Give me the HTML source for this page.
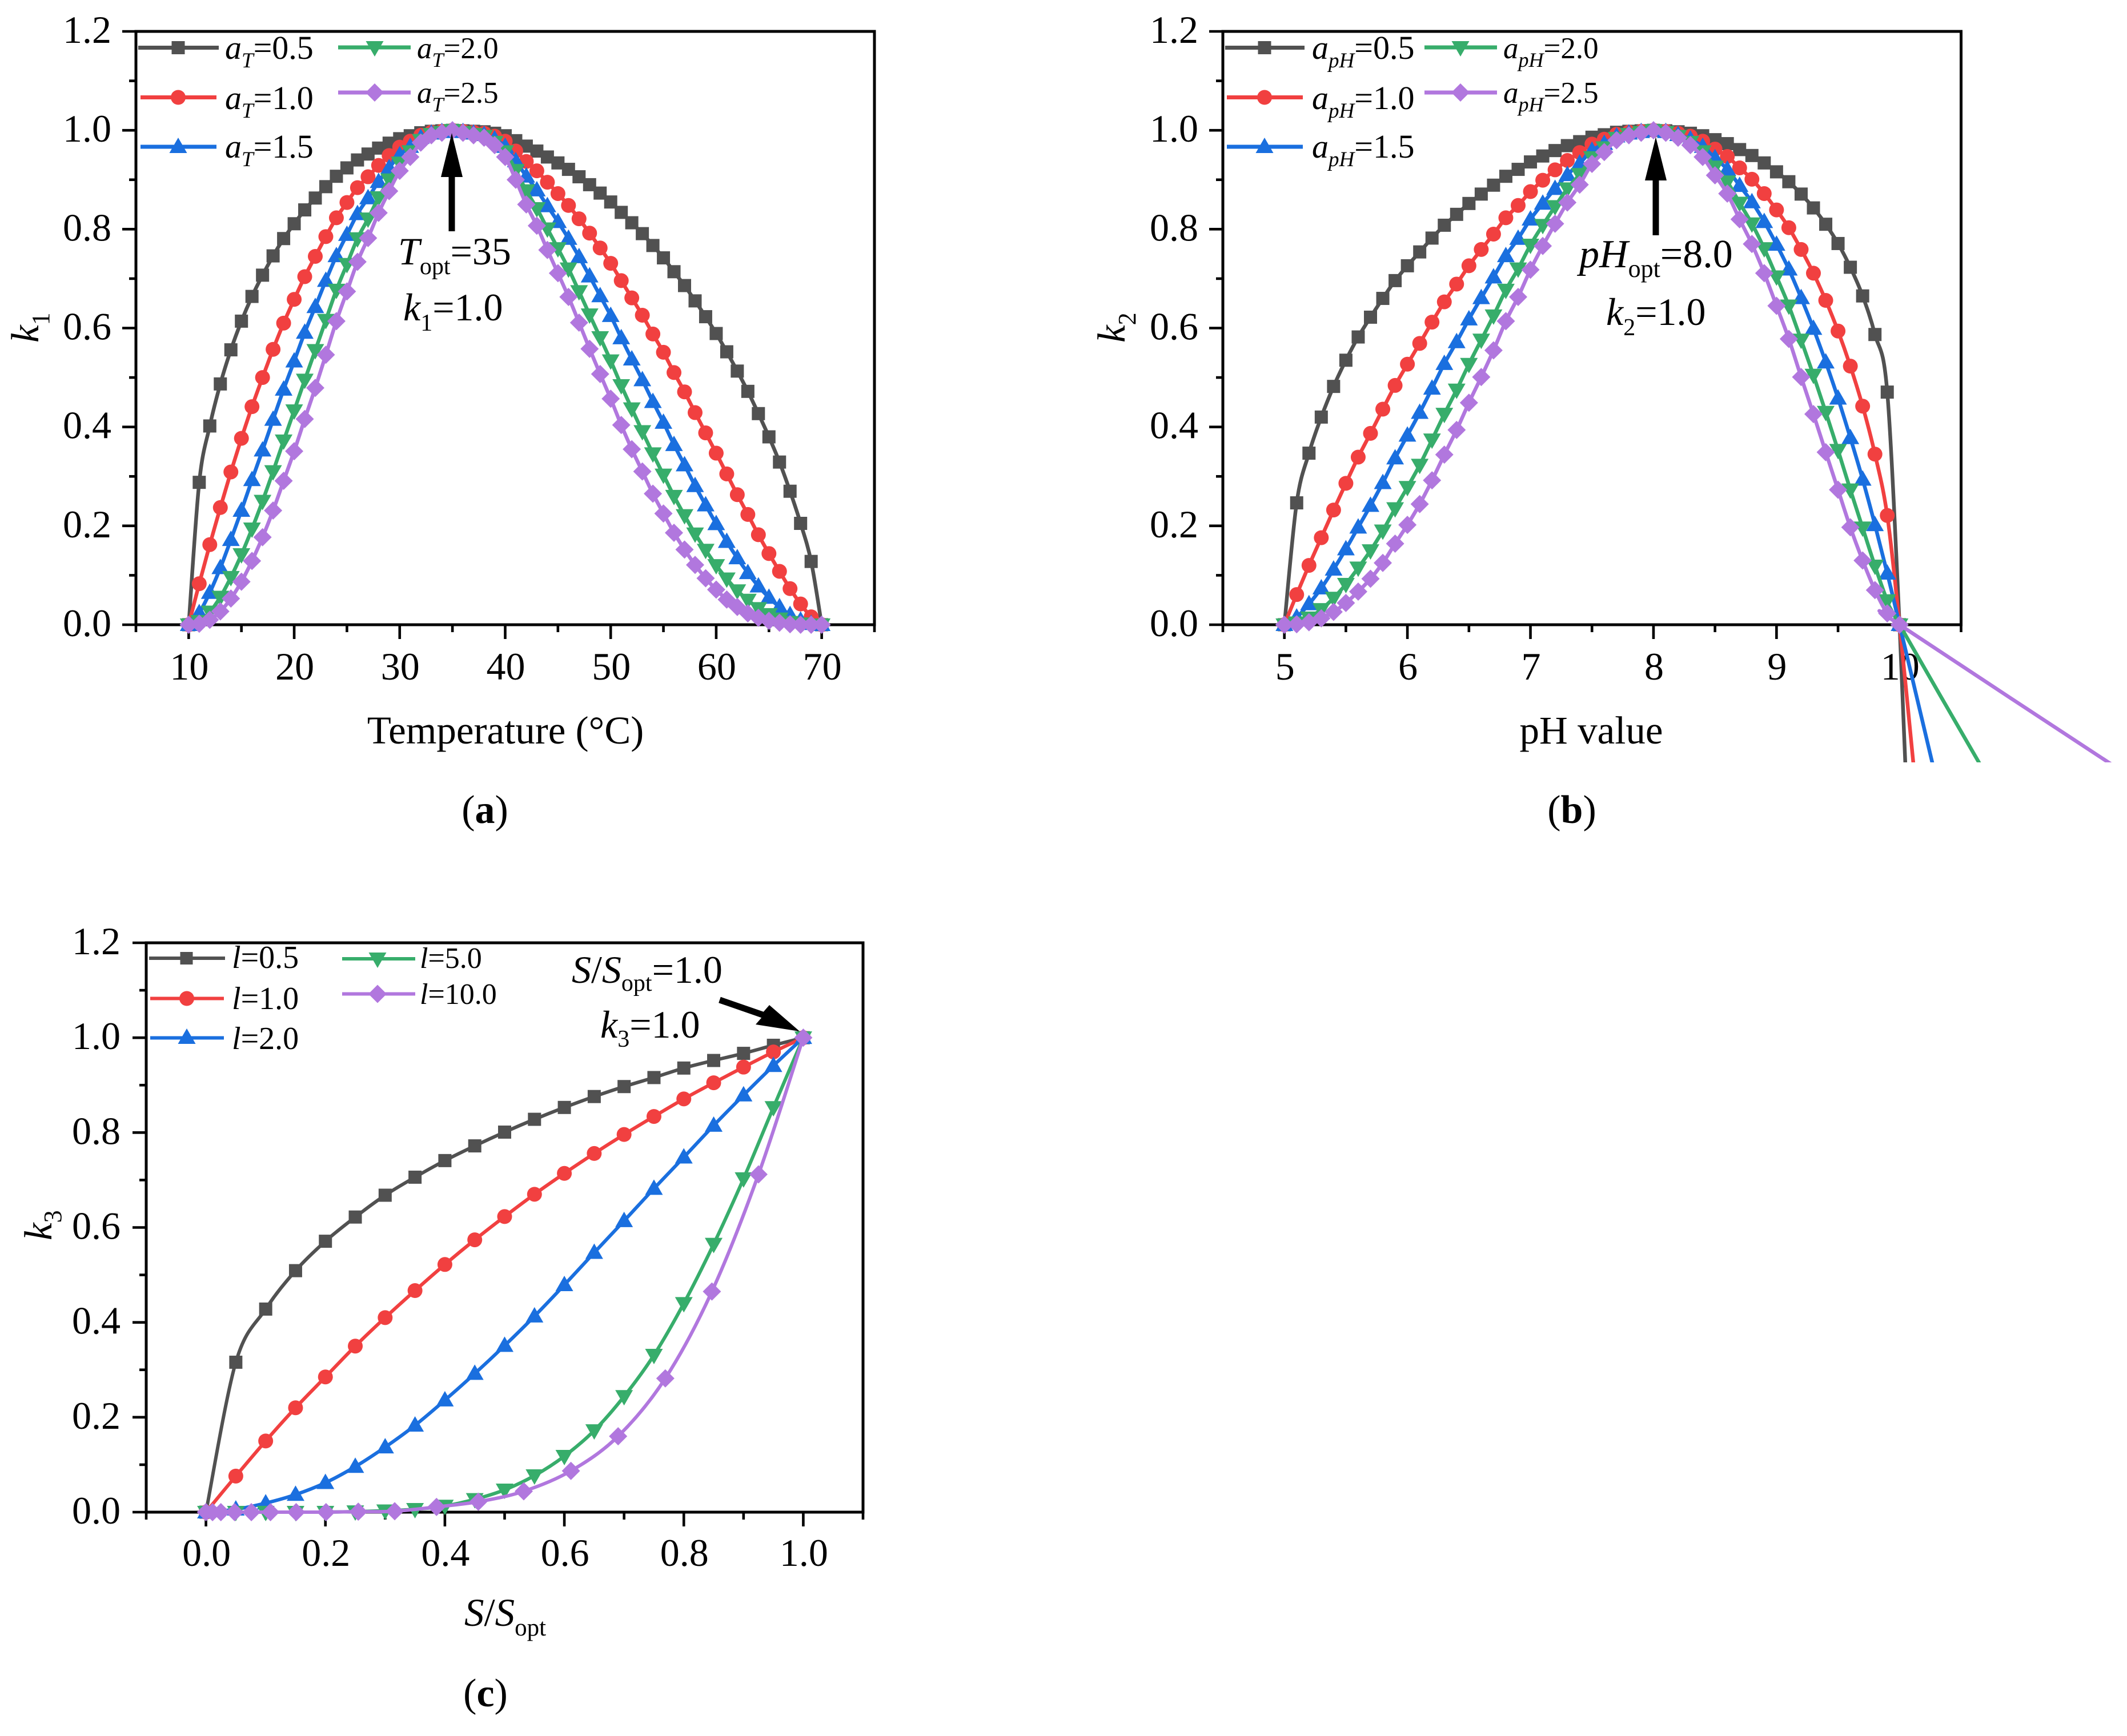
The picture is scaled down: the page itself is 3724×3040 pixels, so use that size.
<!DOCTYPE html>
<html lang="en">
<head>
<meta charset="utf-8">
<title>Response curves k1, k2, k3</title>
<style>
html,body{margin:0;padding:0;background:#fff}
svg{display:block}
text{font-family:"Liberation Serif",serif;fill:#000}
.tick{font-size:68px}
.title{font-size:69px}
.note{font-size:68px}
.noteb{font-size:70px}
.leg{font-size:58px}
.leg2{font-size:53px}
.legc{font-size:56px}
.legc2{font-size:52px}
.it{font-style:italic}
</style>
</head>
<body>
<svg id="figure" xmlns="http://www.w3.org/2000/svg" width="3724" height="3040" viewBox="0 0 3724 3040">
  <rect width="3724" height="3040" fill="#fff"/>
  <defs>
    <clipPath id="clipB"><rect x="2100" y="0" width="1624" height="1335"/></clipPath>
  </defs>
  <g id="plots"></g>

  <!-- Panel a text -->
  <g>
    <text class="title" x="885" y="1302" text-anchor="middle">Temperature (°C)</text>
    <text class="title" transform="translate(67,600) rotate(-90)"><tspan class="it">k</tspan><tspan dy="19" font-size="44">1</tspan></text>
    <text x="849" y="1441" font-size="70" text-anchor="middle">(<tspan font-weight="bold">a</tspan>)</text>
    <text class="note" x="697" y="463"><tspan class="it">T</tspan><tspan dy="17" font-size="42">opt</tspan><tspan dy="-17">=35</tspan></text>
    <text class="note" x="706" y="561"><tspan class="it">k</tspan><tspan dy="18" font-size="42">1</tspan><tspan dy="-18">=1.0</tspan></text>
    <polygon fill="#000" points="791,233 810,310 796.5,310 796.5,405 785.5,405 785.5,310 772,310"/>
  </g>
  <g>
    <g>
      <line x1="242" x2="383" y1="83.5" y2="83.5" stroke="#515151" stroke-width="7"/><rect x="300.5" y="72" width="23" height="23" fill="#515151"/>
      <text class="leg" x="394" y="103"><tspan class="it">a</tspan><tspan class="it" dy="15" font-size="37">T</tspan><tspan dy="-15">=0.5</tspan></text>
    </g>
    <g>
      <line x1="246" x2="379" y1="170.5" y2="170.5" stroke="#F14040" stroke-width="7"/><circle cx="312" cy="170.5" r="13" fill="#F14040"/>
      <text class="leg" x="394" y="191"><tspan class="it">a</tspan><tspan class="it" dy="15" font-size="37">T</tspan><tspan dy="-15">=1.0</tspan></text>
    </g>
    <g>
      <line x1="246" x2="379" y1="257" y2="257" stroke="#1A6FDF" stroke-width="7"/><polygon points="312,241 327.5,268 296.5,268" fill="#1A6FDF"/>
      <text class="leg" x="394" y="276"><tspan class="it">a</tspan><tspan class="it" dy="15" font-size="37">T</tspan><tspan dy="-15">=1.5</tspan></text>
    </g>
    <g>
      <line x1="592" x2="719" y1="83" y2="83" stroke="#37AD6B" stroke-width="7"/><polygon points="656,99 671.5,72 640.5,72" fill="#37AD6B"/>
      <text class="leg2" x="730" y="102"><tspan class="it">a</tspan><tspan class="it" dy="15" font-size="36">T</tspan><tspan dy="-15">=2.0</tspan></text>
    </g>
    <g>
      <line x1="592" x2="719" y1="162" y2="162" stroke="#B177DE" stroke-width="7"/><polygon points="656,146 672,162 656,178 640,162" fill="#B177DE"/>
      <text class="leg2" x="730" y="180"><tspan class="it">a</tspan><tspan class="it" dy="15" font-size="36">T</tspan><tspan dy="-15">=2.5</tspan></text>
    </g>
  </g>

  <!-- Panel b text -->
  <g>
    <text class="title" x="2786" y="1302" text-anchor="middle">pH value</text>
    <text class="title" transform="translate(1969,600) rotate(-90)"><tspan class="it">k</tspan><tspan dy="19" font-size="44">2</tspan></text>
    <text x="2752" y="1441" font-size="70" text-anchor="middle">(<tspan font-weight="bold">b</tspan>)</text>
    <text class="noteb" x="2765" y="468"><tspan class="it">pH</tspan><tspan dy="17" font-size="44">opt</tspan><tspan dy="-17">=8.0</tspan></text>
    <text class="note" x="2812" y="569"><tspan class="it">k</tspan><tspan dy="18" font-size="42">2</tspan><tspan dy="-18">=1.0</tspan></text>
    <polygon fill="#000" points="2899,240 2918,316 2904.5,316 2904.5,412 2893.5,412 2893.5,316 2880,316"/>
  </g>
  <g>
    <g>
      <line x1="2145" x2="2284" y1="83.5" y2="83.5" stroke="#515151" stroke-width="7"/><rect x="2202.5" y="72" width="23" height="23" fill="#515151"/>
      <text class="leg" x="2297" y="103"><tspan class="it">a</tspan><tspan class="it" dy="15" font-size="37">pH</tspan><tspan dy="-15">=0.5</tspan></text>
    </g>
    <g>
      <line x1="2148" x2="2281" y1="170.5" y2="170.5" stroke="#F14040" stroke-width="7"/><circle cx="2214" cy="170.5" r="13" fill="#F14040"/>
      <text class="leg" x="2297" y="191"><tspan class="it">a</tspan><tspan class="it" dy="15" font-size="37">pH</tspan><tspan dy="-15">=1.0</tspan></text>
    </g>
    <g>
      <line x1="2148" x2="2281" y1="257" y2="257" stroke="#1A6FDF" stroke-width="7"/><polygon points="2214,241 2229.5,268 2198.5,268" fill="#1A6FDF"/>
      <text class="leg" x="2297" y="276"><tspan class="it">a</tspan><tspan class="it" dy="15" font-size="37">pH</tspan><tspan dy="-15">=1.5</tspan></text>
    </g>
    <g>
      <line x1="2494" x2="2621" y1="83" y2="83" stroke="#37AD6B" stroke-width="7"/><polygon points="2557,99 2572.5,72 2541.5,72" fill="#37AD6B"/>
      <text class="leg2" x="2632" y="102"><tspan class="it">a</tspan><tspan class="it" dy="15" font-size="36">pH</tspan><tspan dy="-15">=2.0</tspan></text>
    </g>
    <g>
      <line x1="2494" x2="2621" y1="162" y2="162" stroke="#B177DE" stroke-width="7"/><polygon points="2557,146 2573,162 2557,178 2541,162" fill="#B177DE"/>
      <text class="leg2" x="2632" y="180"><tspan class="it">a</tspan><tspan class="it" dy="15" font-size="36">pH</tspan><tspan dy="-15">=2.5</tspan></text>
    </g>
  </g>

  <!-- Panel c text -->
  <g>
    <text class="title" x="813" y="2847"><tspan class="it">S</tspan>/<tspan class="it">S</tspan><tspan dy="17" font-size="43">opt</tspan></text>
    <text class="title" transform="translate(90,2172) rotate(-90)"><tspan class="it">k</tspan><tspan dy="17" font-size="44">3</tspan></text>
    <text x="850" y="2988" font-size="70" text-anchor="middle">(<tspan font-weight="bold">c</tspan>)</text>
    <text class="note" x="1001" y="1721"><tspan class="it">S</tspan>/<tspan class="it">S</tspan><tspan dy="14" font-size="42">opt</tspan><tspan dy="-14">=1.0</tspan></text>
    <text class="note" x="1051" y="1817"><tspan class="it">k</tspan><tspan dy="16" font-size="42">3</tspan><tspan dy="-16">=1.0</tspan></text>
    <polygon fill="#000" points="1400,1806 1347,1760 1336.8,1771.8 1261.8,1745.8 1258.2,1756.2 1333.2,1782.2 1323,1794"/>
  </g>
  <g>
    <g>
      <line x1="261" x2="394" y1="1678" y2="1678" stroke="#515151" stroke-width="6"/><rect x="315.5" y="1667" width="22" height="22" fill="#515151"/>
      <text class="legc" x="406" y="1695"><tspan class="it">l</tspan>=0.5</text>
    </g>
    <g>
      <line x1="263" x2="392" y1="1748.5" y2="1748.5" stroke="#F14040" stroke-width="6"/><circle cx="327" cy="1748.5" r="13" fill="#F14040"/>
      <text class="legc" x="406" y="1767"><tspan class="it">l</tspan>=1.0</text>
    </g>
    <g>
      <line x1="263" x2="392" y1="1817.5" y2="1817.5" stroke="#1A6FDF" stroke-width="6"/><polygon points="327,1801 342.5,1828 311.5,1828" fill="#1A6FDF"/>
      <text class="legc" x="406" y="1837"><tspan class="it">l</tspan>=2.0</text>
    </g>
    <g>
      <line x1="599" x2="727" y1="1679" y2="1679" stroke="#37AD6B" stroke-width="6"/><polygon points="661,1695 676.5,1668 645.5,1668" fill="#37AD6B"/>
      <text class="legc2" x="735" y="1695"><tspan class="it">l</tspan>=5.0</text>
    </g>
    <g>
      <line x1="599" x2="727" y1="1740.5" y2="1740.5" stroke="#B177DE" stroke-width="6"/><polygon points="661,1724.5 677,1740.5 661,1756.5 645,1740.5" fill="#B177DE"/>
      <text class="legc2" x="735" y="1758"><tspan class="it">l</tspan>=10.0</text>
    </g>
  </g>
</svg>

<script>
// ---------- shared tick data ----------
const kTickLabels = ['0.0','0.2','0.4','0.6','0.8','1.0','1.2'];
const kMajorTicks = [0,0.2,0.4,0.6,0.8,1.0,1.2];
const kMinorTicks = [0.1,0.3,0.5,0.7,0.9,1.1];

// ---------- panel a: temperature ----------
const tempMajorTicks = [10,20,30,40,50,60,70];
const tempTickLabels = ['10','20','30','40','50','60','70'];
const tempMinorTicks = [5,15,25,35,45,55,65,75];
const tempX = [10,11,12,13,14,15,16,17,18,19,20,21,22,23,24,25,26,27,28,29,30,31,32,33,34,35,36,37,38,39,40,41,42,43,44,45,46,47,48,49,50,51,52,53,54,55,56,57,58,59,60,61,62,63,64,65,66,67,68,69,70];
const aT05 = [0,.288,.402,.487,.556,.614,.664,.707,.746,.781,.811,.839,.863,.886,.907,.924,.940,.952,.964,.974,.983,.989,.995,.998,.999,1,.999,.998,.997,.994,.989,.979,.968,.958,.946,.934,.921,.906,.890,.873,.855,.834,.813,.791,.767,.742,.714,.686,.655,.623,.589,.552,.513,.472,.427,.380,.329,.270,.205,.128,0];
const aT10 = [0,.083,.162,.237,.309,.377,.441,.500,.557,.610,.658,.704,.745,.785,.823,.854,.884,.906,.929,.949,.966,.978,.990,.996,.998,1,.998,.996,.994,.988,.978,.958,.937,.918,.895,.872,.848,.821,.792,.762,.731,.696,.661,.626,.588,.551,.510,.471,.429,.388,.347,.305,.263,.223,.182,.144,.108,.073,.042,.016,0];
const aT15 = [0,.024,.065,.115,.172,.231,.293,.353,.415,.476,.533,.591,.643,.696,.746,.789,.831,.863,.896,.924,.950,.967,.985,.994,.997,1,.997,.994,.991,.982,.967,.938,.907,.879,.847,.815,.781,.744,.705,.665,.625,.580,.537,.495,.451,.409,.364,.323,.281,.242,.204,.168,.135,.105,.078,.055,.036,.020,.009,.002,0];
const aT20 = [0,.007,.026,.056,.096,.142,.194,.250,.310,.372,.433,.495,.555,.616,.677,.729,.781,.821,.864,.900,.934,.957,.980,.992,.996,1,.996,.992,.988,.976,.957,.919,.878,.842,.801,.761,.720,.674,.627,.581,.534,.484,.437,.391,.346,.303,.260,.221,.184,.151,.120,.093,.069,.050,.033,.021,.012,.005,.002,0,0];
const aT25 = [0,.002,.010,.027,.053,.087,.129,.177,.231,.291,.351,.416,.479,.546,.614,.674,.734,.782,.833,.877,.918,.946,.975,.990,.995,1,.995,.990,.985,.970,.946,.900,.850,.807,.758,.711,.663,.611,.558,.507,.457,.404,.355,.310,.265,.225,.186,.152,.121,.094,.071,.051,.036,.023,.014,.008,.004,.001,0,0,0];

// ---------- panel b: pH ----------
const phMajorTicks = [5,6,7,8,9,10];
const phTickLabels = ['5','6','7','8','9','10'];
const phMinorTicks = [4.5,5.5,6.5,7.5,8.5,9.5,10.5];
const phX = [5,5.1,5.2,5.3,5.4,5.5,5.6,5.7,5.8,5.9,6,6.1,6.2,6.3,6.4,6.5,6.6,6.7,6.8,6.9,7,7.1,7.2,7.3,7.4,7.5,7.6,7.7,7.8,7.9,8,8.1,8.2,8.3,8.4,8.5,8.6,8.7,8.8,8.9,9,9.1,9.2,9.3,9.4,9.5,9.6,9.7,9.8,9.9,10];
const aPh05 = [0,.2465,.347,.420,.482,.535,.582,.622,.660,.696,.726,.754,.782,.808,.830,.852,.871,.889,.907,.921,.936,.948,.959,.969,.977,.986,.991,.996,.998,.999,1,.999,.997,.994,.989,.981,.973,.961,.949,.934,.916,.896,.871,.843,.810,.771,.723,.665,.587,.4705,0];
const aPh10 = [0,.061,.120,.176,.232,.286,.339,.387,.436,.484,.527,.569,.612,.653,.689,.726,.759,.790,.823,.848,.876,.899,.920,.939,.955,.972,.982,.992,.996,.998,1,.998,.994,.988,.978,.962,.947,.924,.901,.872,.839,.803,.759,.711,.656,.594,.523,.442,.345,.221,0];
const aPh15 = [0,.015,.042,.074,.112,.153,.197,.241,.287,.337,.383,.429,.478,.528,.572,.618,.661,.703,.746,.781,.820,.852,.882,.910,.933,.959,.973,.988,.994,.997,1,.997,.991,.982,.967,.944,.921,.888,.855,.815,.769,.719,.661,.599,.531,.458,.378,.294,.202,.104,0];
const aPh20 = [0,.004,.014,.031,.054,.082,.115,.150,.190,.235,.278,.323,.374,.426,.475,.527,.576,.625,.677,.720,.768,.808,.846,.882,.911,.945,.965,.984,.992,.996,1,.996,.988,.976,.957,.926,.896,.853,.811,.761,.704,.645,.576,.505,.430,.353,.273,.196,.119,.049,0];
const aPh25 = [0,.001,.005,.013,.026,.044,.067,.093,.125,.164,.202,.244,.292,.344,.394,.449,.501,.555,.614,.663,.718,.766,.811,.854,.890,.932,.956,.980,.990,.995,1,.995,.985,.970,.946,.909,.872,.820,.770,.711,.645,.578,.501,.426,.349,.273,.197,.130,.070,.023,0];
// line-only continuation below zero, cropped at the plot's lower clip edge
const phTailX = [10.05,10.12,10.286,10.695,11.83];
const phTailK = [-0.3,-0.3,-0.3,-0.3,-0.3];

// ---------- panel c: substrate ----------
const sMajorTicks = [0,0.2,0.4,0.6,0.8,1.0];
const sTickLabels = ['0.0','0.2','0.4','0.6','0.8','1.0'];
const sMinorTicks = [-0.1,0.1,0.3,0.5,0.7,0.9,1.1];
const sX = [0,.05,.1,.15,.2,.25,.3,.35,.4,.45,.5,.55,.6,.65,.7,.75,.8,.85,.9,.95,1];
const l05 = [0,.316,.428,.509,.571,.622,.668,.706,.741,.772,.801,.828,.853,.876,.897,.916,.936,.952,.967,.984,1];
const l10 = [0,.076,.150,.220,.285,.350,.410,.467,.522,.574,.623,.670,.714,.756,.796,.834,.871,.905,.938,.970,1];
const l20 = [0,.006,.019,.037,.062,.096,.137,.183,.236,.292,.351,.413,.479,.547,.614,.682,.748,.815,.879,.941,1];
const l50 = [0,0,0,0,0,.001,.003,.006,.013,.027,.047,.077,.118,.172,.244,.331,.440,.565,.703,.853,1];
const l100X = [0,.011,.025,.048,.076,.108,.151,.201,.255,.316,.386,.456,.532,.611,.690,.769,.847,.925,1];
const l100 = [0,0,0,0,0,0,0,0,.001,.002,.011,.022,.044,.087,.160,.282,.465,.712,1];

const seriesColors = ['#515151','#F14040','#1A6FDF','#37AD6B','#B177DE'];
const seriesShapes = ['square','circle','up','down','diamond'];

const NS = 'http://www.w3.org/2000/svg';
const plots = document.getElementById('plots');

function svgEl(tag, parent){
  const el = document.createElementNS(NS, tag);
  parent.appendChild(el);
  return el;
}

function smoothPath(pts){
  let d = 'M' + pts[0][0].toFixed(2) + ' ' + pts[0][1].toFixed(2);
  for(let i = 0; i < pts.length - 1; i++){
    const p0 = pts[Math.max(i - 1, 0)], p1 = pts[i], p2 = pts[i + 1], p3 = pts[Math.min(i + 2, pts.length - 1)];
    const t = 1 / 6;
    d += 'C' + (p1[0] + (p2[0] - p0[0]) * t).toFixed(2) + ' ' + (p1[1] + (p2[1] - p0[1]) * t).toFixed(2) + ' ' +
         (p2[0] - (p3[0] - p1[0]) * t).toFixed(2) + ' ' + (p2[1] - (p3[1] - p1[1]) * t).toFixed(2) + ' ' +
         p2[0].toFixed(2) + ' ' + p2[1].toFixed(2);
  }
  return d;
}

function drawMarker(parent, shape, x, y, color, s, name){
  let el;
  if(shape === 'square'){
    el = svgEl('rect', parent);
    el.setAttribute('x', x - 11.5 * s);
    el.setAttribute('y', y - 11.5 * s);
    el.setAttribute('width', 23 * s);
    el.setAttribute('height', 23 * s);
  } else if(shape === 'circle'){
    el = svgEl('circle', parent);
    el.setAttribute('cx', x);
    el.setAttribute('cy', y);
    el.setAttribute('r', 13 * s);
  } else {
    el = svgEl('polygon', parent);
    let p;
    if(shape === 'up') p = [[0,-16],[15.5,11],[-15.5,11]];
    else if(shape === 'down') p = [[0,16],[15.5,-11],[-15.5,-11]];
    else p = [[0,-16],[16,0],[0,16],[-16,0]];
    el.setAttribute('points', p.map(q => (x + q[0] * s).toFixed(2) + ',' + (y + q[1] * s).toFixed(2)).join(' '));
  }
  el.setAttribute('fill', color);
  
  
}

function drawPanel(cfg){
  const g = svgEl('g', plots);
  
  

  const sx = v => cfg.x0 + (v - cfg.xMin) * (cfg.x1 - cfg.x0) / (cfg.xMax - cfg.xMin);
  const sy = v => cfg.y0 - v * (cfg.y0 - cfg.y1) / 1.2;

  function tick(x1, y1, x2, y2, name){
    const l = svgEl('line', g);
    l.setAttribute('x1', x1);
    l.setAttribute('y1', y1);
    l.setAttribute('x2', x2);
    l.setAttribute('y2', y2);
    l.setAttribute('stroke', '#000');
    l.setAttribute('stroke-width', 4.6);
    
    
  }

  const box = svgEl('rect', g);
  box.setAttribute('x', cfg.x0);
  box.setAttribute('y', cfg.y1);
  box.setAttribute('width', cfg.x1 - cfg.x0);
  box.setAttribute('height', cfg.y0 - cfg.y1);
  box.setAttribute('fill', 'none');
  box.setAttribute('stroke', '#000');
  box.setAttribute('stroke-width', 5);
  
  

  kMajorTicks.forEach((v, i) => {
    tick(cfg.x0 - 24, sy(v), cfg.x0, sy(v), 'y-major-tick');
    const t = svgEl('text', g);
    t.setAttribute('class', 'tick');
    t.setAttribute('x', cfg.x0 - cfg.yLabelGap);
    t.setAttribute('y', sy(v) + 20);
    t.setAttribute('text-anchor', 'end');
    t.textContent = kTickLabels[i];
    
    
  });
  kMinorTicks.forEach(v => tick(cfg.x0 - 12, sy(v), cfg.x0, sy(v), 'y-minor-tick'));

  cfg.xMajor.forEach((v, i) => {
    tick(sx(v), cfg.y0, sx(v), cfg.y0 + 25, 'x-major-tick');
    const t = svgEl('text', g);
    t.setAttribute('class', 'tick');
    t.setAttribute('x', sx(v) + 1);
    t.setAttribute('y', cfg.y0 + cfg.xLabelDrop);
    t.setAttribute('text-anchor', 'middle');
    t.textContent = cfg.xLabels[i];
    
    
  });
  cfg.xMinor.forEach(v => tick(sx(v), cfg.y0, sx(v), cfg.y0 + 13, 'x-minor-tick'));

  cfg.series.forEach((s, i) => {
    const sg = svgEl('g', g);
    
    
    const pts = s.xs.map((x, j) => [sx(x), sy(s.ys[j])]);
    const linePts = pts.slice();
    if(s.tailX !== undefined) linePts.push([sx(s.tailX), sy(s.tailK)]);
    const line = svgEl('path', sg);
    line.setAttribute('d', smoothPath(linePts));
    line.setAttribute('fill', 'none');
    line.setAttribute('stroke', seriesColors[i]);
    line.setAttribute('stroke-width', cfg.lineWidth);
    line.setAttribute('stroke-linejoin', 'round');
    if(cfg.clip) line.setAttribute('clip-path', 'url(#' + cfg.clip + ')');
    
    
    pts.forEach(p => drawMarker(sg, seriesShapes[i], p[0], p[1], seriesColors[i], cfg.markerScale, s.name));
  });
}

drawPanel({
  id: 'panel-a', x0: 238, x1: 1531, y0: 1094, y1: 55, xMin: 5, xMax: 75,
  xMajor: tempMajorTicks, xLabels: tempTickLabels, xMinor: tempMinorTicks,
  yLabelGap: 43, xLabelDrop: 96, markerScale: 1, lineWidth: 6.5,
  series: [
    {name: 'series-at-0-5', xs: tempX, ys: aT05},
    {name: 'series-at-1-0', xs: tempX, ys: aT10},
    {name: 'series-at-1-5', xs: tempX, ys: aT15},
    {name: 'series-at-2-0', xs: tempX, ys: aT20},
    {name: 'series-at-2-5', xs: tempX, ys: aT25}
  ]
});

drawPanel({
  id: 'panel-b', x0: 2141, x1: 3433.5, y0: 1094, y1: 55, xMin: 4.5, xMax: 10.5,
  xMajor: phMajorTicks, xLabels: phTickLabels, xMinor: phMinorTicks,
  yLabelGap: 43, xLabelDrop: 96, markerScale: 1, lineWidth: 6.5, clip: 'clipB',
  series: [
    {name: 'series-aph-0-5', xs: phX, ys: aPh05, tailX: phTailX[0], tailK: phTailK[0]},
    {name: 'series-aph-1-0', xs: phX, ys: aPh10, tailX: phTailX[1], tailK: phTailK[1]},
    {name: 'series-aph-1-5', xs: phX, ys: aPh15, tailX: phTailX[2], tailK: phTailK[2]},
    {name: 'series-aph-2-0', xs: phX, ys: aPh20, tailX: phTailX[3], tailK: phTailK[3]},
    {name: 'series-aph-2-5', xs: phX, ys: aPh25, tailX: phTailX[4], tailK: phTailK[4]}
  ]
});

drawPanel({
  id: 'panel-c', x0: 256, x1: 1511, y0: 2648, y1: 1651, xMin: -0.1, xMax: 1.1,
  xMajor: sMajorTicks, xLabels: sTickLabels, xMinor: sMinorTicks,
  yLabelGap: 45, xLabelDrop: 94, markerScale: 1, lineWidth: 6,
  series: [
    {name: 'series-l-0-5', xs: sX, ys: l05},
    {name: 'series-l-1-0', xs: sX, ys: l10},
    {name: 'series-l-2-0', xs: sX, ys: l20},
    {name: 'series-l-5-0', xs: sX, ys: l50},
    {name: 'series-l-10-0', xs: l100X, ys: l100}
  ]
});
</script>
</body>
</html>
